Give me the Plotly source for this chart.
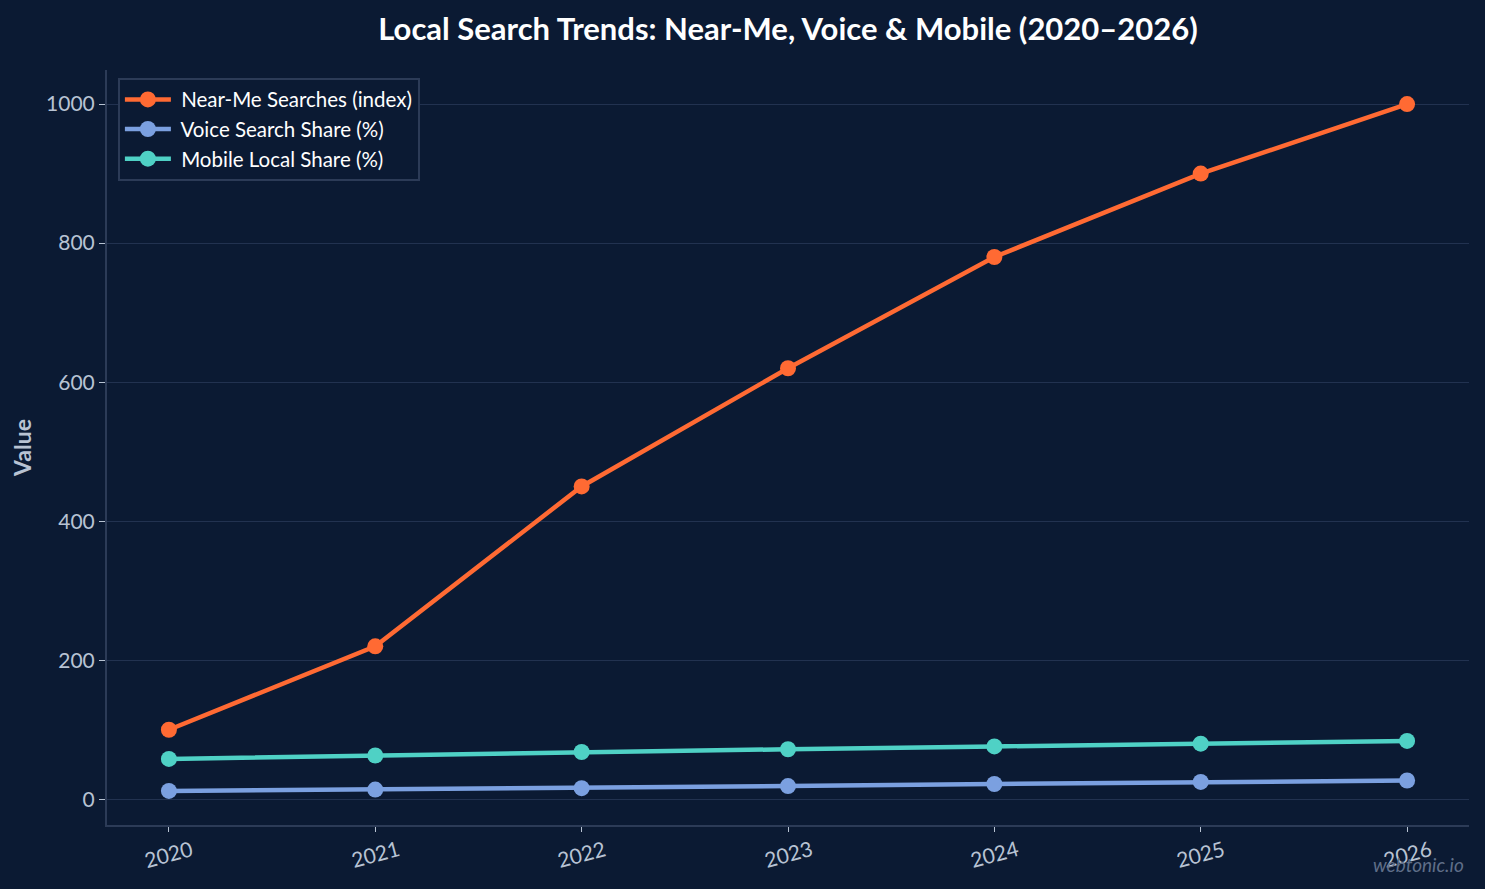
import plotly.graph_objects as go

years = ["2020", "2021", "2022", "2023", "2024", "2025", "2026"]
near_me = [100, 220, 450, 620, 780, 900, 1000]
voice = [12, 14, 16, 19, 22, 25, 27]
mobile = [58, 63, 68, 72, 76, 80, 84]
y_ticks = [0, 200, 400, 600, 800, 1000]

bg = "#0b1a33"
grid = "#223250"
axis_c = "#2c3b57"
tick_c = "#b8c3d3"

fig = go.Figure()
series = [
    ("Near-Me Searches (index)", near_me, "#ff6a33"),
    ("Voice Search Share (%)", voice, "#7ba0e0"),
    ("Mobile Local Share (%)", mobile, "#4fd1c5"),
]
for name, vals, col in series:
    fig.add_trace(go.Scatter(
        x=years, y=vals, name="\u00a0" + name, mode="lines+markers",
        line=dict(color=col, width=4.5),
        marker=dict(color=col, size=16),
    ))

fig.update_layout(
    width=1485, height=889,
    paper_bgcolor=bg, plot_bgcolor=bg,
    font=dict(family="Lato", color=tick_c, size=20),
    margin=dict(l=107, r=16, t=70, b=64),
    title=dict(text="<b>Local Search Trends: Near-Me, Voice &amp; Mobile (2020–2026)</b>",
               x=0.5, xref="paper", xanchor="center", y=0.967, yanchor="middle",
               font=dict(size=31, color="#ffffff", family="Lato")),
    legend=dict(x=0.008, y=0.99, xanchor="left", yanchor="top",
                bgcolor=bg, bordercolor=axis_c, borderwidth=2, itemwidth=46,
                font=dict(size=20.5, color="#ffffff")),
    showlegend=True,
)
fig.update_xaxes(
    type="category", range=[-0.3, 6.3],
    showgrid=False, showline=True, linecolor=axis_c, linewidth=2,
    ticks="outside", ticklen=5, tickcolor=tick_c, tickwidth=1,
    showticklabels=False,
    zeroline=False,
)
for i, yr in enumerate(years):
    fig.add_annotation(
        text=yr, x=i, xref="x", y=-0.038, yref="paper",
        xanchor="center", yanchor="middle", showarrow=False, textangle=-15,
        font=dict(size=21, color=tick_c, family="Lato"),
    )
fig.update_yaxes(
    range=[-37, 1049], tickvals=y_ticks,
    showgrid=True, gridcolor=grid, gridwidth=1,
    showline=True, linecolor=axis_c, linewidth=2,
    ticks="outside", ticklen=6, tickcolor=tick_c, tickwidth=1,
    tickfont=dict(size=21, color=tick_c),
    zeroline=False,
    title=dict(text="<b>Value</b>", font=dict(size=23, color=tick_c), standoff=8),
)
fig.add_annotation(
    text="<i>webtonic.io</i>", xref="paper", yref="paper",
    x=0.9975, y=-0.052, xanchor="right", yanchor="middle", showarrow=False,
    font=dict(size=19, color="#5f6e88", family="Lato"),
)
fig.write_html("out.html")
